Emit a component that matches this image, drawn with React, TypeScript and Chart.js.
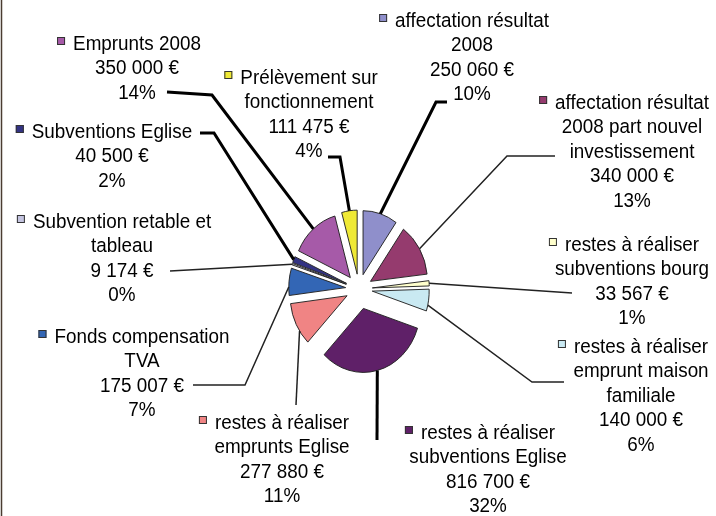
import React, { useEffect, useRef } from "react";
import { Chart, ArcElement, PieController } from "chart.js";

Chart.register(ArcElement, PieController);

// ---- data ----
const categories: string[][] = [
  ["affectation résultat", "2008"],
  ["affectation résultat", "2008 part nouvel", "investissement"],
  ["restes à réaliser", "subventions bourg"],
  ["restes à réaliser", "emprunt maison", "familiale"],
  ["restes à réaliser", "subventions Eglise"],
  ["restes à réaliser", "emprunts Eglise"],
  ["Fonds compensation", "TVA"],
  ["Subvention retable et", "tableau"],
  ["Subventions Eglise"],
  ["Emprunts 2008"],
  ["Prélèvement sur", "fonctionnement"],
];
const values: number[] = [250060, 340000, 33567, 140000, 816700, 277880, 175007, 9174, 40500, 350000, 111475];

// ---- styles ----
const colors: string[] = [
  "#8F8FCB", "#953B6E", "#FFFFCC", "#C9E9F2", "#5F2068", "#F08484",
  "#3366B5", "#C4C4E0", "#333383", "#A65AA8", "#EFE935",
];
const explode: number[] = [15, 15, 15, 15, 20, 15, 15, 15, 15, 15, 15];
const SX = 0.89;
const FONT = "20.5px 'Liberation Sans', Arial, sans-serif";
const TEXT_SX = 0.92;
const LINE_GAP = 24.5;

// label layout: centre x of text block, first line y, leader line bend points, attach fraction
const labelLayout = [
  { x: 472, y: 21, via: [[447, 102], [436, 102]], thick: true, f: 0.5 },
  { x: 632, y: 103, via: [[555, 156], [507, 156]], thick: false, f: 0.5 },
  { x: 632, y: 245, via: [[572, 293]], thick: false, f: 0.5 },
  { x: 641, y: 347, via: [[564, 382], [532, 382]], thick: false, f: 0.73 },
  { x: 488, y: 433, via: [[377, 440]], thick: true, f: 0.5 },
  { x: 282, y: 423, via: [[296, 405]], thick: false, f: 0.33 },
  { x: 142, y: 337, via: [[193, 385], [245, 385]], thick: false, f: 0.31 },
  { x: 122, y: 222, via: [[170, 271]], thick: false, f: 0.5 },
  { x: 112, y: 132, via: [[200, 133], [214, 133]], thick: true, f: 0.5 },
  { x: 137, y: 44, via: [[167, 92], [212, 95]], thick: true, f: 0.5 },
  { x: 309, y: 78, via: [[328, 157], [340, 157]], thick: true, f: 0.5 },
];

const total = values.reduce((a, b) => a + b, 0);
const fmtEuro = (v: number) => String(v).replace(/\B(?=(\d{3})+(?!\d))/g, " ") + " €";
const fmtPct = (v: number) => Math.round((v / total) * 100) + "%";

const explodedPie = {
  id: "explodedPie",
  beforeDatasetDraw(chart: any, args: any) {
    const meta = args.meta;
    const ctx = chart.ctx;
    const a0 = meta.data[0];
    const cx = a0.x, cy = a0.y;
    ctx.save();
    ctx.translate(cx, cy);
    ctx.scale(SX, 1);
    ctx.translate(-cx, -cy);
    meta.data.forEach((arc: any, i: number) => {
      const mid = (arc.startAngle + arc.endAngle) / 2;
      ctx.save();
      ctx.translate(Math.cos(mid) * explode[i], Math.sin(mid) * explode[i]);
      arc.draw(ctx, chart.chartArea);
      ctx.restore();
    });
    ctx.restore();
    return false;
  },
  afterDraw(chart: any) {
    const ctx = chart.ctx;
    const meta = chart.getDatasetMeta(0);
    const a0 = meta.data[0];
    const cx = a0.x, cy = a0.y;

    // frame line on the left
    ctx.save();
    ctx.strokeStyle = "#4a3c31";
    ctx.lineWidth = 1.5;
    ctx.beginPath();
    ctx.moveTo(1.5, 0);
    ctx.lineTo(1.5, chart.height);
    ctx.stroke();
    ctx.restore();

    meta.data.forEach((arc: any, i: number) => {
      const L = labelLayout[i];
      const mid = (arc.startAngle + arc.endAngle) / 2;
      const a = arc.startAngle + L.f * (arc.endAngle - arc.startAngle);
      const r = arc.outerRadius;
      const px = cx + SX * (Math.cos(a) * r + Math.cos(mid) * explode[i]);
      const py = cy + Math.sin(a) * r + Math.sin(mid) * explode[i];

      ctx.save();
      ctx.strokeStyle = L.thick ? "#000" : "#222";
      ctx.lineWidth = L.thick ? 3 : 1.5;
      ctx.lineJoin = "miter";
      ctx.beginPath();
      L.via.forEach((p, k) => (k === 0 ? ctx.moveTo(p[0], p[1]) : ctx.lineTo(p[0], p[1])));
      ctx.lineTo(px, py);
      ctx.stroke();
      ctx.restore();

      const lines = [...categories[i], fmtEuro(values[i]), fmtPct(values[i])];
      ctx.save();
      ctx.font = FONT;
      ctx.fillStyle = "#000";
      ctx.textAlign = "center";
      ctx.textBaseline = "middle";
      lines.forEach((t, k) => {
        ctx.save();
        ctx.translate(L.x, L.y + k * LINE_GAP);
        ctx.scale(TEXT_SX, 1);
        ctx.fillText(t, 0, 0);
        ctx.restore();
      });
      const w = ctx.measureText(lines[0]).width * TEXT_SX;
      const sqR = L.x - w / 2 - 8;
      ctx.fillStyle = colors[i];
      ctx.fillRect(sqR - 8, L.y - 7, 8, 8);
      ctx.strokeStyle = "#333";
      ctx.lineWidth = 1;
      ctx.strokeRect(sqR - 7.5, L.y - 6.5, 7, 7);
      ctx.restore();
    });
  },
};

export default function App() {
  const ref = useRef<HTMLCanvasElement | null>(null);
  useEffect(() => {
    if (!ref.current) return;
    const chart = new Chart(ref.current, {
      type: "pie",
      data: {
        labels: categories.map((l) => l.join(" ")),
        datasets: [
          {
            data: values,
            backgroundColor: colors,
            borderColor: "#222",
            borderWidth: 1,
          },
        ],
      },
      options: {
        animation: false,
        responsive: false,
        radius: 64,
        layout: { padding: { left: 2, right: 0, top: 62, bottom: 0 } },
        plugins: { legend: { display: false }, tooltip: { enabled: false } },
      } as any,
      plugins: [explodedPie],
    });
    return () => chart.destroy();
  }, []);
  return (
    <div style={{ position: "absolute", left: 0, top: 0, width: 716, height: 516, background: "#fff" }}>
      <canvas ref={ref} width={716} height={516} style={{ display: "block" }} />
    </div>
  );
}
